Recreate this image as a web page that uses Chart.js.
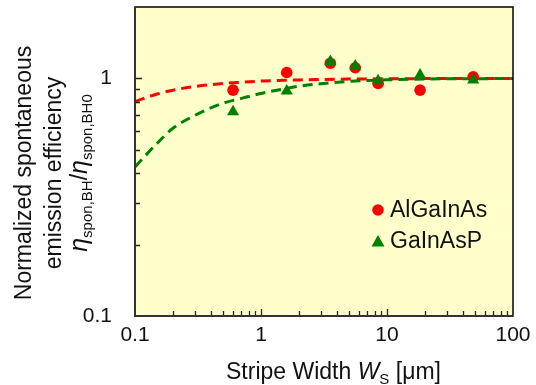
<!DOCTYPE html>
<html>
<head>
<meta charset="utf-8">
<script src="https://cdn.jsdelivr.net/npm/chart.js@4"></script>
<style>
  html, body { margin: 0; padding: 0; background: #fff; }
  #wrap { width: 536px; height: 385px; }
</style>
</head>
<body>
<div id="wrap"><canvas id="chart" width="536" height="385"></canvas></div>
<script>
// data
const xTickValues = [0.1, 1, 10, 100];
const xTickLabels = ['0.1', '1', '10', '100'];
const yTickValues = [0.1, 1];
const yTickLabels = ['0.1', '1'];

const stripeWidths = [0.6, 1.6, 3.55, 5.6, 8.5, 18.3, 48.3];
const effAlGaInAs = [0.893, 1.06, 1.16, 1.11, 0.953, 0.893, 1.016];
const effGaInAsP = [0.725, 0.885, 1.18, 1.13, 0.978, 1.035, 0.985];

// dashed fit curves
const fitWidths = [0.1, 0.15, 0.2, 0.3, 0.5, 0.7, 1, 1.5, 2, 3, 5, 10, 20, 50, 100];
const fitAlGaInAs = [0.80, 0.86, 0.893, 0.925, 0.952, 0.964, 0.975, 0.982, 0.986, 0.99, 0.994, 0.997, 0.999, 1.0, 1.0];
const fitGaInAsP = [0.424, 0.534, 0.617, 0.70, 0.787, 0.825, 0.865, 0.903, 0.928, 0.951, 0.972, 0.987, 0.995, 0.998, 1.0];

const xMinor = [0.2, 0.3, 0.4, 0.5, 0.6, 0.7, 0.8, 0.9, 2, 3, 4, 5, 6, 7, 8, 9, 20, 30, 40, 50, 60, 70, 80, 90];
const yMinor = [0.2, 0.3, 0.4, 0.5, 0.6, 0.7, 0.8, 0.9];

const RED = '#ff0000';
const GREEN = '#008000';
const FONT = '"Liberation Sans", Arial, sans-serif';

const pts = (xs, ys) => xs.map((x, i) => ({ x: x, y: ys[i] }));

// yellow plot background
const bgPlugin = {
    id: 'bg',
    beforeDraw(chart) {
        const a = chart.chartArea, ctx = chart.ctx;
        ctx.save();
        ctx.fillStyle = '#ffffcc';
        ctx.fillRect(a.left, a.top, a.right - a.left, a.bottom - a.top);
        ctx.restore();
    }
};

// frame, inward ticks, titles and legend
const decoPlugin = {
    id: 'deco',
    afterDraw(chart) {
        const a = chart.chartArea, ctx = chart.ctx;
        const xs = chart.scales.x, ys = chart.scales.y;
        ctx.save();

        // ticks
        ctx.strokeStyle = '#222';
        ctx.lineWidth = 1.3;
        ctx.beginPath();
        xMinor.forEach(v => {
            const px = Math.round(xs.getPixelForValue(v)) + 0.5;
            ctx.moveTo(px, a.bottom); ctx.lineTo(px, a.bottom - 5);
        });
        [1, 10].forEach(v => {
            const px = Math.round(xs.getPixelForValue(v)) + 0.5;
            ctx.moveTo(px, a.bottom); ctx.lineTo(px, a.bottom - 7);
        });
        yMinor.forEach(v => {
            const py = Math.round(ys.getPixelForValue(v)) + 0.5;
            ctx.moveTo(a.left, py); ctx.lineTo(a.left + 5, py);
        });
        const p1 = Math.round(ys.getPixelForValue(1)) + 0.5;
        ctx.moveTo(a.left, p1); ctx.lineTo(a.left + 7, p1);
        ctx.stroke();

        // frame
        ctx.strokeStyle = '#000';
        ctx.lineWidth = 1.5;
        ctx.strokeRect(a.left, a.top, a.right - a.left, a.bottom - a.top);
        ctx.strokeStyle = '#333';
        ctx.lineWidth = 2;
        ctx.beginPath();
        ctx.moveTo(a.left, a.top); ctx.lineTo(a.left, a.bottom); ctx.lineTo(a.right, a.bottom);
        ctx.stroke();

        ctx.fillStyle = '#111';
        ctx.textBaseline = 'alphabetic';

        // x title: Stripe Width W_S [µm]
        let x = 226;
        const by = 379;
        const seg = (txt, font, dy) => {
            ctx.font = font;
            ctx.fillText(txt, x, by + (dy || 0));
            x += ctx.measureText(txt).width;
        };
        ctx.textAlign = 'left';
        seg('Stripe Width ', '23px ' + FONT);
        seg('W', 'italic 23px ' + FONT);
        seg('S', '15px ' + FONT, 5);
        seg(' [\u03bcm]', '23px ' + FONT);

        // y title, three rotated lines
        ctx.save();
        ctx.translate(0, 173);
        ctx.rotate(-Math.PI / 2);
        ctx.textAlign = 'center';
        ctx.font = '23px ' + FONT;
        ctx.fillText('Normalized spontaneous', 0, 31);
        ctx.fillText('emission efficiency', 0, 61);
        // eta line
        const parts = [
            ['\u03b7', 'italic 25px ' + FONT, 0],
            ['spon,BH', '15px ' + FONT, 5],
            ['/', '23px ' + FONT, 0],
            ['\u03b7', 'italic 25px ' + FONT, 0],
            ['spon,BH0', '15px ' + FONT, 5]
        ];
        let total = 0;
        parts.forEach(p => { ctx.font = p[1]; total += ctx.measureText(p[0]).width; });
        let lx = -total / 2;
        ctx.textAlign = 'left';
        parts.forEach(p => {
            ctx.font = p[1];
            ctx.fillText(p[0], lx, 87 + p[2]);
            lx += ctx.measureText(p[0]).width;
        });
        ctx.restore();

        // legend
        ctx.font = '23px ' + FONT;
        ctx.textAlign = 'left';
        ctx.textBaseline = 'middle';
        ctx.fillStyle = RED;
        ctx.beginPath();
        ctx.arc(378, 210, 5.8, 0, Math.PI * 2);
        ctx.fill();
        ctx.fillStyle = GREEN;
        ctx.beginPath();
        ctx.moveTo(378, 235); ctx.lineTo(384.5, 246.5); ctx.lineTo(371.5, 246.5);
        ctx.closePath();
        ctx.fill();
        ctx.fillStyle = '#111';
        ctx.fillText('AlGaInAs', 390, 211);
        ctx.fillText('GaInAsP', 390, 242);

        ctx.restore();
    }
};

const noPad = s => { s.paddingTop = 0; s.paddingBottom = 0; s.paddingLeft = 0; s.paddingRight = 0; };

new Chart(document.getElementById('chart'), {
    type: 'scatter',
    data: {
        datasets: [
            {
                label: 'AlGaInAs fit',
                data: pts(fitWidths, fitAlGaInAs),
                showLine: true,
                borderColor: RED,
                borderWidth: 3,
                borderDash: [10, 6],
                pointRadius: 0,
                cubicInterpolationMode: 'monotone',
                order: 3
            },
            {
                label: 'GaInAsP fit',
                data: pts(fitWidths, fitGaInAsP),
                showLine: true,
                borderColor: GREEN,
                borderWidth: 3,
                borderDash: [10, 6],
                pointRadius: 0,
                cubicInterpolationMode: 'monotone',
                order: 2
            },
            {
                label: 'AlGaInAs',
                data: pts(stripeWidths, effAlGaInAs),
                pointStyle: 'circle',
                pointRadius: 5.8,
                backgroundColor: RED,
                borderWidth: 0,
                order: 1
            },
            {
                label: 'GaInAsP',
                data: pts(stripeWidths, effGaInAsP),
                pointStyle: 'triangle',
                pointRadius: 7,
                backgroundColor: GREEN,
                borderWidth: 0,
                order: 0
            }
        ]
    },
    options: {
        responsive: false,
        animation: false,
        layout: { padding: { left: 0, right: 23, top: 7, bottom: 0 } },
        plugins: {
            legend: { display: false },
            tooltip: { enabled: false }
        },
        scales: {
            x: {
                type: 'logarithmic',
                min: 0.1,
                max: 100,
                border: { display: false },
                grid: { display: false, drawTicks: false },
                afterBuildTicks: s => { s.ticks = xTickValues.map(v => ({ value: v })); },
                afterFit: s => { s.height = 69; noPad(s); },
                ticks: {
                    autoSkip: false,
                    maxRotation: 0,
                    padding: 7,
                    color: '#111',
                    font: { family: FONT, size: 21 },
                    callback: v => xTickLabels[xTickValues.indexOf(v)] ?? ''
                }
            },
            y: {
                type: 'logarithmic',
                min: 0.1,
                max: 2,
                border: { display: false },
                grid: { display: false, drawTicks: false },
                afterBuildTicks: s => { s.ticks = yTickValues.map(v => ({ value: v })); },
                afterFit: s => { s.width = 135; noPad(s); },
                ticks: {
                    autoSkip: false,
                    padding: 23,
                    color: '#111',
                    font: { family: FONT, size: 21 },
                    callback: v => yTickLabels[yTickValues.indexOf(v)] ?? ''
                }
            }
        }
    },
    plugins: [bgPlugin, decoPlugin]
});
</script>
</body>
</html>
